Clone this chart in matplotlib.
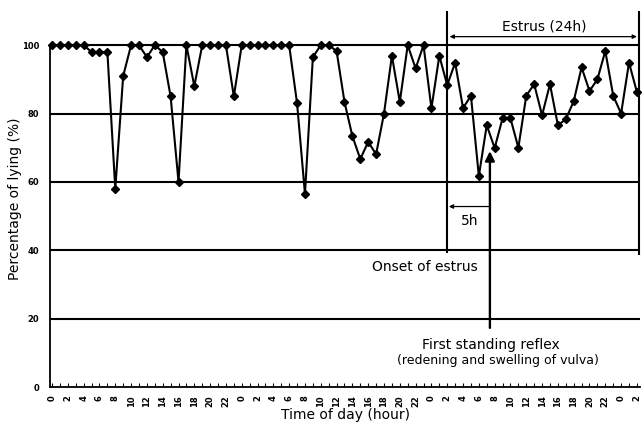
import matplotlib
matplotlib.use("Agg")
import matplotlib.pyplot as plt
import numpy as np

plt.rcParams["font.family"] = ["DejaVu Sans"]

# hourly percentage of lying, hour 0 .. 74 (three days + 2 h)
hours = list(range(75))
lying = [
    100, 100, 100, 100, 100, 98, 98, 98, 58, 91,
    100, 100, 96.5, 100, 98, 85, 60, 100, 88, 100,
    100, 100, 100, 85, 100, 100, 100, 100, 100, 100,
    100, 83, 56.5, 96.5, 100, 100, 98.3, 83.4, 73.4, 66.7,
    71.7, 68.1, 80, 96.9, 83.4, 100, 93.2, 100, 81.5, 96.9,
    88.3, 94.9, 81.6, 85.2, 61.7, 76.6, 69.9, 78.6, 78.6, 70,
    85.2, 88.6, 79.5, 88.6, 76.6, 78.3, 83.6, 93.5, 86.6, 90,
    98.3, 85.2, 80, 94.9, 86.3,
]
tick_hours = list(range(0, 75, 2))
tick_labels = [str(h % 24) for h in tick_hours]
y_ticks = [0, 20, 40, 60, 80, 100]

onset = 50
estrus_end = 74
reflex = 55.4

fig = plt.figure(figsize=(6.42, 4.25), dpi=100)
ax = fig.add_axes([0.078, 0.0894, 0.919, 0.8847])

x_lo, x_hi = -0.25, 74.4
ax.set_xlim(x_lo, x_hi)
ax.set_ylim(0, 110)

# horizontal reference lines
ax.hlines(y_ticks[1:], x_lo, x_hi, colors="black", lw=1.5, zorder=1)

ax.plot(hours, lying, color="black", lw=1.5, marker="D", ms=3.6, zorder=3,
        clip_on=False)

for s in ["top", "right"]:
    ax.spines[s].set_visible(False)
ax.spines["left"].set_bounds(0, 100)
ax.spines["left"].set_linewidth(1.3)
ax.spines["bottom"].set_linewidth(1.3)

ax.set_xticks(tick_hours)
ax.set_xticklabels(tick_labels, rotation=90, fontsize=6, fontweight="bold")
ax.set_xticks(hours, minor=True)
ax.tick_params(axis="x", which="both", direction="in", length=3, width=0.8, pad=6)
ax.set_yticks(y_ticks)
ax.set_yticklabels([str(v) for v in y_ticks], fontsize=6, fontweight="bold")
ax.tick_params(axis="y", length=0, pad=8)

ax.set_xlabel("Time of day (hour)", fontsize=10, labelpad=1)
ax.set_ylabel("Percentage of lying (%)", fontsize=10)
ax.yaxis.set_label_coords(-0.047, 0.5)

# estrus period annotations
ax.vlines(onset, 39.2, 110, colors="black", lw=1.5, clip_on=False)
ax.vlines(estrus_end + 0.25, 38.5, 110, colors="black", lw=1.5, clip_on=False)
ax.annotate("", xy=(onset + 0.3, 102.5), xytext=(estrus_end, 102.5),
            arrowprops=dict(arrowstyle="<|-|>", color="black", lw=0.9,
                            mutation_scale=6, shrinkA=0, shrinkB=0))
ax.text((onset + estrus_end) / 2 + 0.3, 105.5, "Estrus (24h)", ha="center",
        va="center", fontsize=10)

ax.annotate("", xy=(onset + 0.2, 52.8), xytext=(reflex, 52.8),
            arrowprops=dict(arrowstyle="-|>", color="black", lw=0.9,
                            mutation_scale=6, shrinkA=0, shrinkB=0))
ax.text((onset + reflex) / 2 + 0.2, 48.5, "5h", ha="center", va="center",
        fontsize=10)
ax.text(onset - 2.8, 35.1, "Onset of estrus", ha="center", va="center",
        fontsize=10)

ax.annotate("", xy=(reflex, 69), xytext=(reflex, 17.3),
            arrowprops=dict(arrowstyle="-|>", color="black", lw=1.7,
                            mutation_scale=14, shrinkA=0, shrinkB=0))
ax.text(reflex + 0.1, 12.3, "First standing reflex", ha="center",
        va="center", fontsize=10)
ax.text(reflex + 1.0, 7.9, "(redening and swelling of vulva)", ha="center",
        va="center", fontsize=9)

fig.savefig("out.png", dpi=100)
